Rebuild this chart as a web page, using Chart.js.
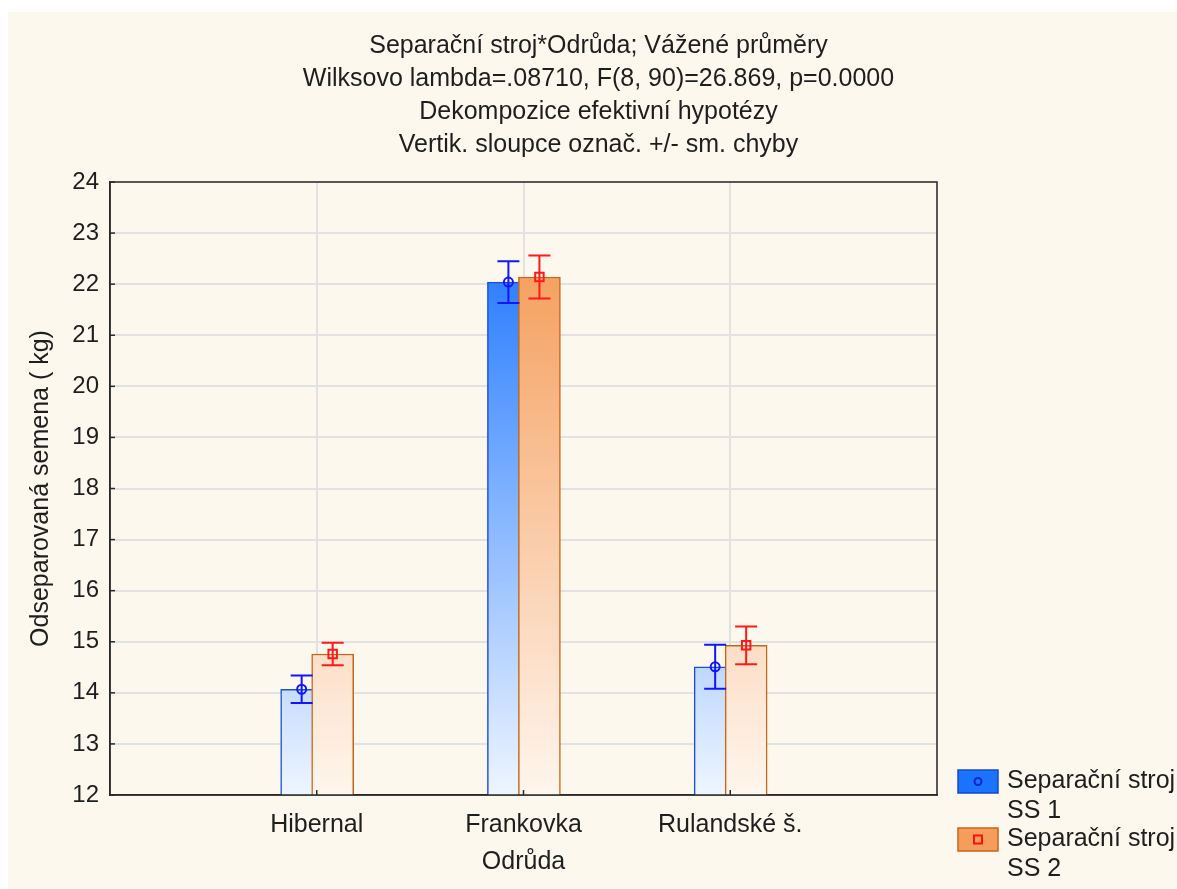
<!DOCTYPE html>
<html>
<head>
<meta charset="utf-8">
<script src="https://cdn.jsdelivr.net/npm/chart.js@4/dist/chart.umd.min.js"></script>
<style>
  html, body { margin: 0; padding: 0; background: #ffffff; }
  #wrap { position: absolute; left: 8px; top: 12px; width: 1169px; height: 877px; background: #fdf8ed; }
  canvas { display: block; }
</style>
</head>
<body>
<div id="wrap"><canvas id="chart" width="1169" height="877"></canvas></div>
<script>
// Weighted means and standard errors of separated seed mass per variety and machine
const categories = ['Hibernal', 'Frankovka', 'Rulandské š.'];
const seriesNames = [['Separační stroj', 'SS 1'], ['Separační stroj', 'SS 2']];
const ss1Means = [14.07, 22.04, 14.51];
const ss1Errors = [0.27, 0.41, 0.43];
const ss2Means = [14.76, 22.14, 14.93];
const ss2Errors = [0.22, 0.42, 0.37];
const yRange = [12, 24];
const titleLines = [
  'Separační stroj*Odrůda; Vážené průměry',
  'Wilksovo lambda=.08710, F(8, 90)=26.869, p=0.0000',
  'Dekompozice efektivní hypotézy',
  'Vertik. sloupce označ. +/- sm. chyby'
];
const yAxisTitle = 'Odseparovaná semena ( kg)';
const xAxisTitle = 'Odrůda';

// Styling
const FONT = "'Liberation Sans', Arial, sans-serif";
const TEXT = '#1e1e1e';
const series = [
  { means: ss1Means, errors: ss1Errors, shift: -0.073, top: '#0a6aff', bottom: '#eef5ff',
    border: '#1a4fd6', err: '#1414ff', marker: 'circle', box: '#1a74ff', boxBorder: '#1848c8', boxMark: '#1426c8' },
  { means: ss2Means, errors: ss2Errors, shift: 0.077, top: '#f39248', bottom: '#fff6ee',
    border: '#c4661c', err: '#ff1a1a', marker: 'rect', box: '#f59d5a', boxBorder: '#c4661c', boxMark: '#ff1010' }
];

function gradientFor(s) {
  return (context) => {
    const { chart } = context;
    const area = chart.chartArea;
    if (!area) return s.top;
    const g = chart.ctx.createLinearGradient(0, area.top, 0, area.bottom);
    g.addColorStop(0, s.top);
    g.addColorStop(1, s.bottom);
    return g;
  };
}

const datasets = [];
series.forEach((s, k) => {
  datasets.push({
    type: 'bar',
    label: seriesNames[k].join(' '),
    data: categories.map((c, i) => ({ x: i + 1 + s.shift, y: s.means[i] })),
    backgroundColor: gradientFor(s),
    borderColor: s.border,
    borderWidth: 1.5,
    barThickness: 42,
    grouped: false,
    order: 4 - k
  });
});
series.forEach((s, k) => {
  datasets.push({
    type: 'scatter',
    label: seriesNames[k].join(' ') + ' průměr',
    data: categories.map((c, i) => ({ x: i + 1 + s.shift, y: s.means[i] })),
    pointStyle: s.marker,
    radius: s.marker === 'rect' ? 6 : 4.5,
    pointHoverRadius: 0,
    borderColor: s.err,
    borderWidth: 2,
    backgroundColor: 'rgba(0,0,0,0)',
    order: 1
  });
});

// Error bars (±1 SE) drawn right after the top bar series
const errorBars = {
  id: 'errorBars',
  afterDatasetDraw(chart, args) {
    if (args.index !== 1) return;
    const { ctx } = chart;
    const y = chart.scales.y;
    series.forEach((s, k) => {
      const meta = chart.getDatasetMeta(k);
      ctx.save();
      ctx.strokeStyle = s.err;
      ctx.lineWidth = 2;
      meta.data.forEach((bar, i) => {
        const x = bar.x;
        const hi = y.getPixelForValue(s.means[i] + s.errors[i]);
        const lo = y.getPixelForValue(s.means[i] - s.errors[i]);
        ctx.beginPath();
        ctx.moveTo(x, hi); ctx.lineTo(x, lo);
        ctx.moveTo(x - 11, hi); ctx.lineTo(x + 11, hi);
        ctx.moveTo(x - 11, lo); ctx.lineTo(x + 11, lo);
        ctx.stroke();
      });
      ctx.restore();
    });
  }
};

// Plot frame and inward tick marks
const frame = {
  id: 'frame',
  afterDraw(chart) {
    const { ctx, chartArea: a, scales } = chart;
    ctx.save();
    ctx.strokeStyle = '#2a2a2a';
    ctx.lineWidth = 1.5;
    ctx.strokeRect(a.left, a.top, a.right - a.left, a.bottom - a.top);
    scales.y.ticks.forEach(t => {
      const py = scales.y.getPixelForValue(t.value);
      ctx.beginPath(); ctx.moveTo(a.left, py); ctx.lineTo(a.left + 5, py); ctx.stroke();
    });
    scales.x.ticks.forEach(t => {
      if (t.value < 1 || t.value > categories.length) return;
      const px = scales.x.getPixelForValue(t.value);
      ctx.beginPath(); ctx.moveTo(px, a.bottom); ctx.lineTo(px, a.bottom - 5); ctx.stroke();
    });
    ctx.restore();
  }
};

// Legend with two-line entries at the lower right
const sideLegend = {
  id: 'sideLegend',
  afterDraw(chart) {
    const { ctx } = chart;
    const x0 = 950, boxW = 40, boxH = 23;
    const tops = [758, 816];
    ctx.save();
    ctx.font = '25px ' + FONT;
    ctx.textBaseline = 'middle';
    series.forEach((s, k) => {
      const t = tops[k];
      ctx.fillStyle = s.box;
      ctx.fillRect(x0, t, boxW, boxH);
      ctx.strokeStyle = s.boxBorder;
      ctx.lineWidth = 1.5;
      ctx.strokeRect(x0, t, boxW, boxH);
      const cx = x0 + boxW / 2, cy = t + boxH / 2;
      ctx.strokeStyle = s.boxMark;
      ctx.lineWidth = 2;
      ctx.beginPath();
      if (s.marker === 'circle') ctx.arc(cx, cy, 3.5, 0, Math.PI * 2);
      else ctx.rect(cx - 4, cy - 4, 8, 8);
      ctx.stroke();
      ctx.fillStyle = TEXT;
      seriesNames[k].forEach((line, j) => ctx.fillText(line, x0 + 49, cy + j * 30));
    });
    ctx.restore();
  }
};

new Chart(document.getElementById('chart'), {
  type: 'bar',
  data: { datasets },
  plugins: [errorBars, frame, sideLegend],
  options: {
    responsive: false,
    animation: false,
    events: [],
    layout: { padding: { left: 12, right: 0, top: 0, bottom: 0 } },
    plugins: {
      legend: { display: false },
      tooltip: { enabled: false },
      title: {
        display: true,
        text: titleLines,
        color: TEXT,
        font: { family: FONT, size: 25, weight: 'normal', lineHeight: 1.32 },
        padding: { top: 17.5, bottom: 20.5 }
      }
    },
    scales: {
      x: {
        type: 'linear',
        min: 0,
        max: categories.length + 1,
        offset: false,
        afterFit(scale) { scale.height = 94; },
        grid: { offset: false, color: '#e2e2e2', lineWidth: 2, drawTicks: false },
        border: { display: true, color: '#2a2a2a', width: 1.5 },
        ticks: {
          stepSize: 1,
          autoSkip: false,
          maxRotation: 0,
          padding: 15,
          color: TEXT,
          font: { family: FONT, size: 25 },
          callback: (v) => categories[v - 1] || ''
        },
        title: {
          display: true,
          text: xAxisTitle,
          color: TEXT,
          font: { family: FONT, size: 25 },
          padding: { top: 0, bottom: 12 }
        }
      },
      y: {
        min: yRange[0],
        max: yRange[1],
        afterFit(scale) { scale.width = 90; },
        grid: { color: '#e2e2e2', lineWidth: 2, drawTicks: false },
        border: { display: true, color: '#2a2a2a', width: 1.5 },
        ticks: {
          stepSize: 1,
          padding: 11,
          color: TEXT,
          font: { family: FONT, size: 24 }
        },
        title: {
          display: true,
          text: yAxisTitle,
          color: TEXT,
          font: { family: FONT, size: 25 },
          padding: { top: 6, bottom: 0 }
        }
      },
      // empty right-hand axis that reserves the legend column
      legendSpace: {
        type: 'linear',
        position: 'right',
        min: yRange[0],
        max: yRange[1],
        afterFit(scale) { scale.width = 240; },
        grid: { display: false, drawTicks: false },
        border: { display: false },
        ticks: { display: false }
      }
    }
  }
});
</script>
</body>
</html>
